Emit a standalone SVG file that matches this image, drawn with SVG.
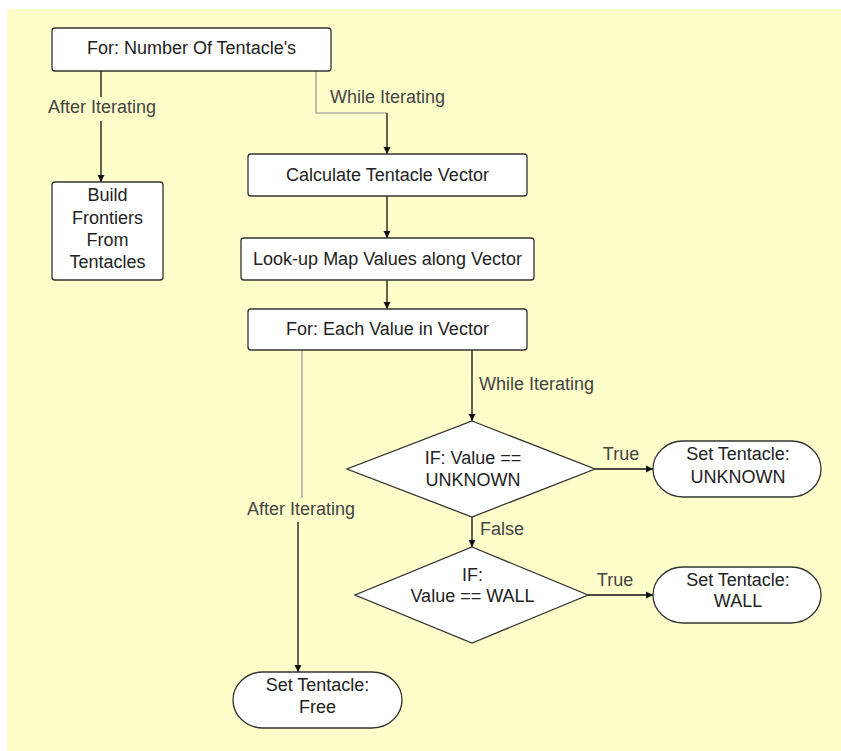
<svg xmlns="http://www.w3.org/2000/svg" width="841" height="751" viewBox="0 0 841 751">
  <defs>
    <marker id="arrow" viewBox="0 0 10 10" refX="10" refY="5" markerWidth="7" markerHeight="9" markerUnits="userSpaceOnUse" orient="auto">
      <path d="M0,0 L10,5 L0,10 z" fill="#111"/>
    </marker>
    <style>
      .shape { fill: #ffffff; stroke: #333333; stroke-width: 1.3; }
      .txt { font-family: "Liberation Sans", Arial, sans-serif; font-size: 18px; fill: #222222; text-anchor: middle; }
      .lbl { font-family: "Liberation Sans", Arial, sans-serif; font-size: 18px; fill: #444444; }
      .line { fill: none; stroke: #111111; stroke-width: 1.3; }
      .faint { fill: none; stroke: #b0b0a8; stroke-width: 1.6; }
    </style>
  </defs>

  <!-- canvas -->
  <rect x="7" y="9" width="834" height="742" fill="#fffdca"/>

  <!-- connectors -->
  <g id="connectors">
    <!-- outer loop: after iterating -->
    <line class="line" x1="101" y1="71" x2="101" y2="97"/>
    <line class="line" x1="101" y1="121" x2="101" y2="182" marker-end="url(#arrow)"/>
    <text class="lbl" x="102" y="113" text-anchor="middle">After Iterating</text>

    <!-- outer loop: while iterating -->
    <path class="faint" d="M316,71 V113 H387"/>
    <line class="line" x1="387" y1="113" x2="387" y2="154" marker-end="url(#arrow)"/>
    <text class="lbl" x="330" y="103">While Iterating</text>

    <line class="line" x1="387" y1="196" x2="387" y2="238" marker-end="url(#arrow)"/>
    <line class="line" x1="387" y1="280" x2="387" y2="309" marker-end="url(#arrow)"/>

    <!-- inner loop: while iterating -->
    <line class="line" x1="472" y1="350" x2="472" y2="421" marker-end="url(#arrow)"/>
    <text class="lbl" x="479" y="390">While Iterating</text>

    <!-- inner loop: after iterating -->
    <line class="faint" x1="302" y1="350" x2="302" y2="498"/>
    <text class="lbl" x="301" y="515" text-anchor="middle">After Iterating</text>
    <line class="line" x1="298" y1="522" x2="298" y2="672" marker-end="url(#arrow)"/>

    <!-- decision branches -->
    <line class="line" x1="595" y1="469" x2="653" y2="469" marker-end="url(#arrow)"/>
    <text class="lbl" x="621" y="460" text-anchor="middle">True</text>

    <line class="line" x1="472" y1="517" x2="472" y2="547" marker-end="url(#arrow)"/>
    <text class="lbl" x="480" y="535">False</text>

    <line class="line" x1="588" y1="595" x2="653" y2="595" marker-end="url(#arrow)"/>
    <text class="lbl" x="615" y="586" text-anchor="middle">True</text>
  </g>

  <g id="for-tentacles">
    <rect class="shape" x="52" y="28" width="279" height="43" rx="3"/>
    <text class="txt" x="191.5" y="54">For: Number Of Tentacle's</text>
  </g>

  <g id="build-frontiers">
    <rect class="shape" x="52" y="182" width="111" height="98" rx="3"/>
    <text class="txt" x="107.5" y="201">Build</text>
    <text class="txt" x="107.5" y="223.5">Frontiers</text>
    <text class="txt" x="107.5" y="246">From</text>
    <text class="txt" x="107.5" y="268">Tentacles</text>
  </g>

  <g id="calc-vector">
    <rect class="shape" x="248" y="154" width="279" height="42" rx="3"/>
    <text class="txt" x="387.5" y="181">Calculate Tentacle Vector</text>
  </g>

  <g id="lookup-values">
    <rect class="shape" x="241" y="238" width="293" height="42" rx="3"/>
    <text class="txt" x="387.5" y="264.5">Look-up Map Values along Vector</text>
  </g>

  <g id="for-each-value">
    <rect class="shape" x="248" y="309" width="279" height="41" rx="3"/>
    <text class="txt" x="387.5" y="335">For: Each Value in Vector</text>
  </g>

  <g id="if-unknown">
    <polygon class="shape" points="472,421 595,469 472,517 347,469"/>
    <text class="txt" x="473" y="464">IF: Value ==</text>
    <text class="txt" x="473" y="486">UNKNOWN</text>
  </g>

  <g id="set-unknown">
    <rect class="shape" x="653" y="441" width="168" height="56" rx="30" ry="28"/>
    <text class="txt" x="738" y="460">Set Tentacle:</text>
    <text class="txt" x="738" y="482.5">UNKNOWN</text>
  </g>

  <g id="if-wall">
    <polygon class="shape" points="472,547 588,595 472,643 355,595"/>
    <text class="txt" x="472.5" y="581">IF:</text>
    <text class="txt" x="472.5" y="602">Value == WALL</text>
  </g>

  <g id="set-wall">
    <rect class="shape" x="653" y="567" width="168" height="56" rx="30" ry="28"/>
    <text class="txt" x="738" y="585.5">Set Tentacle:</text>
    <text class="txt" x="738" y="607">WALL</text>
  </g>

  <g id="set-free">
    <rect class="shape" x="233" y="672" width="169" height="56" rx="30" ry="28"/>
    <text class="txt" x="317.5" y="691">Set Tentacle:</text>
    <text class="txt" x="317.5" y="712.5">Free</text>
  </g>
</svg>
